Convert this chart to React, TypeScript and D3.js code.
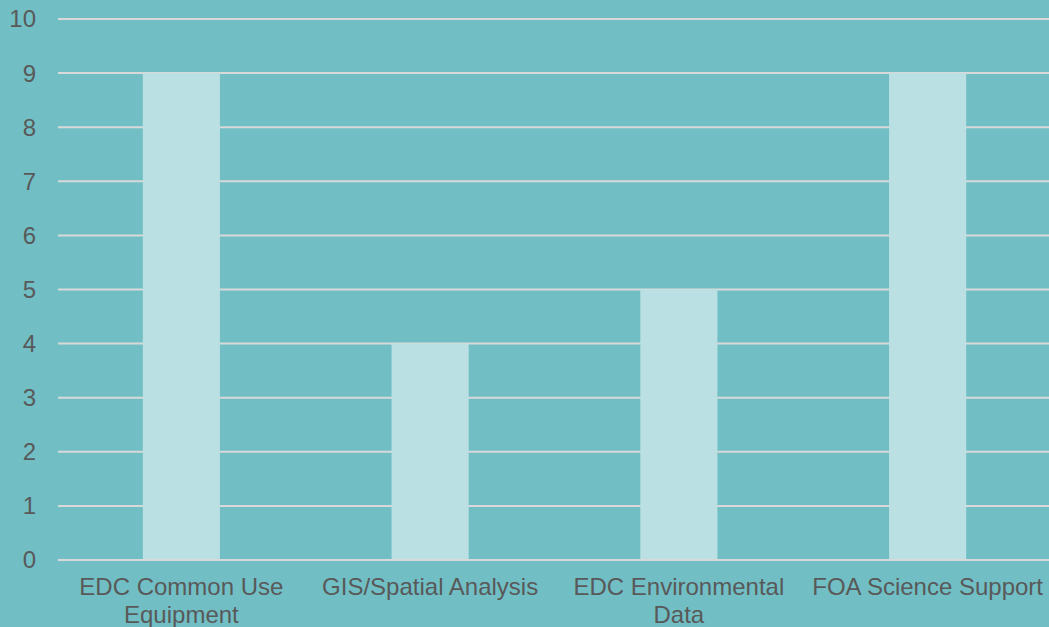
import React, { useEffect, useRef } from 'react';
import * as d3 from 'd3';

const categories = [
  'EDC Common Use Equipment',
  'GIS/Spatial Analysis',
  'EDC Environmental Data',
  'FOA Science Support',
];
const tickLabels = [
  ['EDC Common Use', 'Equipment'],
  ['GIS/Spatial Analysis'],
  ['EDC Environmental', 'Data'],
  ['FOA Science Support'],
];
const values = [9, 4, 5, 9];
const yTicks = [0, 1, 2, 3, 4, 5, 6, 7, 8, 9, 10];

const App: React.FC = () => {
  const svgRef = useRef<SVGSVGElement | null>(null);

  useEffect(() => {
    if (!svgRef.current) return;
    const svg = d3.select(svgRef.current);
    svg.selectAll('*').remove();

    const width = 1049;
    const height = 627;
    const margin = { top: 19, right: -3, bottom: 67, left: 57 };
    const font = '"Liberation Sans", Arial, sans-serif';

    svg.append('rect')
      .attr('width', width)
      .attr('height', height)
      .attr('fill', '#71bfc5');

    const x = d3.scaleBand<string>()
      .domain(categories)
      .range([margin.left, width - margin.right]);

    const y = d3.scaleLinear()
      .domain([0, 10])
      .range([height - margin.bottom, margin.top]);

    // gridlines
    svg.append('g')
      .selectAll('line')
      .data(yTicks)
      .join('line')
      .attr('x1', margin.left + 1)
      .attr('x2', width)
      .attr('y1', d => y(d))
      .attr('y2', d => y(d))
      .attr('stroke', '#d9d9d9')
      .attr('stroke-width', 2);

    // bars
    const barW = x.bandwidth() * 0.31;
    svg.append('g')
      .selectAll('rect')
      .data(values)
      .join('rect')
      .attr('x', (d, i) => (x(categories[i]) as number) + x.bandwidth() / 2 - barW / 2)
      .attr('y', d => y(d))
      .attr('width', barW)
      .attr('height', d => y(0) - y(d) - 1)
      .attr('fill', '#bae0e3');

    // y labels
    svg.append('g')
      .selectAll('text')
      .data(yTicks)
      .join('text')
      .attr('x', 36)
      .attr('y', d => y(d))
      .attr('dy', '0.35em')
      .attr('text-anchor', 'end')
      .attr('font-family', font)
      .attr('font-size', 24)
      .attr('fill', '#595959')
      .text(d => d);

    // x labels
    const xl = svg.append('g')
      .selectAll('text')
      .data(categories)
      .join('text')
      .attr('x', d => (x(d) as number) + x.bandwidth() / 2)
      .attr('y', 595)
      .attr('text-anchor', 'middle')
      .attr('font-family', font)
      .attr('font-size', 24)
      .attr('fill', '#595959');

    xl.selectAll('tspan')
      .data((d, i) => tickLabels[i])
      .join('tspan')
      .attr('x', function () {
        return (this.parentNode as SVGTextElement).getAttribute('x');
      })
      .attr('dy', (d, j) => (j === 0 ? 0 : 28))
      .text(d => d);
  }, []);

  return (
    <div style={{ position: 'absolute', left: 0, top: 0, width: 1049, height: 627 }}>
      <svg ref={svgRef} width={1049} height={627} style={{ display: 'block' }}></svg>
    </div>
  );
};

export default App;
